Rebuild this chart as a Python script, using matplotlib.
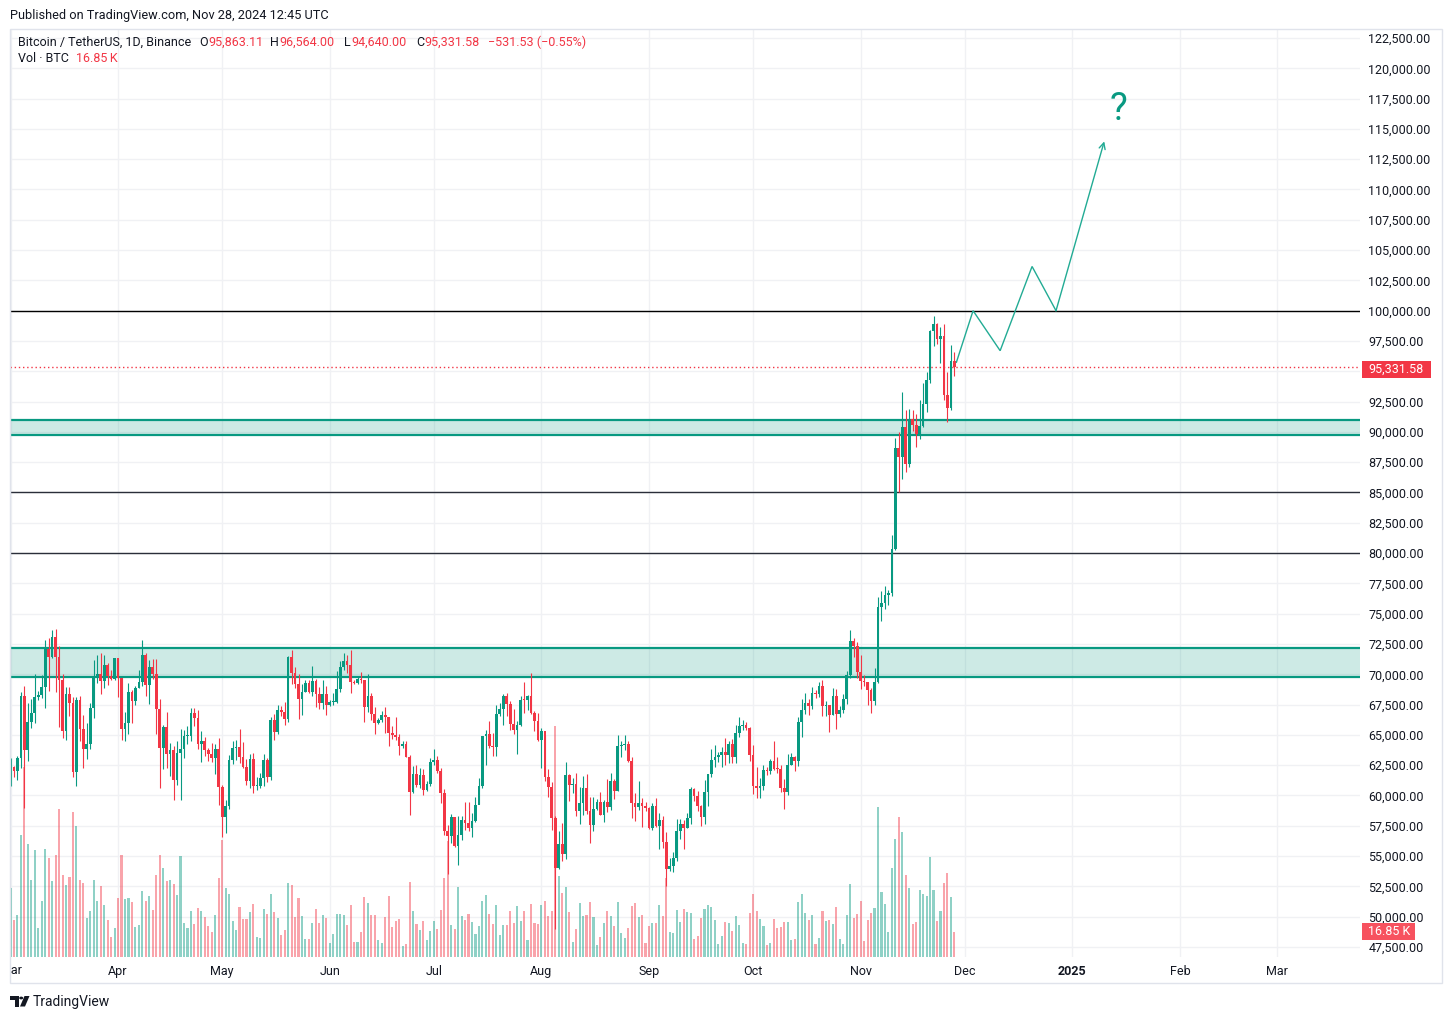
import matplotlib
matplotlib.use("Agg")
import matplotlib.pyplot as plt
from matplotlib.patches import Rectangle, Polygon, Circle
from matplotlib.transforms import Bbox, TransformedBbox
import numpy as np

plt.rcParams['font.family'] = ['Roboto', 'DejaVu Sans']

W, H = 1453, 1019

# ---------------- data (BTC/USDT daily, Binance) ----------------
start_date = '2024-03-01'
first_open = 61130.0

close_mar = [62387, 61987, 63113, 68245, 63724, 66074, 66823, 68124, 68313, 68955, 72078, 71452, 73072, 71388, 69499, 65300,
             68393, 67609, 61937, 67840, 65501, 63797, 64209, 67211, 69880, 69988, 69452, 70744, 69893, 69645, 71333]
high_mar = [63114, 62433, 63230, 68499, 69000, 67637, 67985, 69990, 68592, 69950, 72800, 72969, 73650, 73777, 72357, 70044,
            68930, 68956, 68124, 68100, 68240, 66650, 65976, 67624, 71150, 71561, 71769, 71552, 70913, 70357, 71366]
low_mar = [60777, 61561, 61320, 62300, 59005, 62848, 65600, 66000, 67918, 68040, 67194, 68620, 71333, 68555, 65630, 64780,
           64539, 66600, 61555, 60775, 64529, 62260, 63038, 63800, 66385, 69280, 68359, 68903, 69076, 69566, 69562]
vol_mar = [46.7, 25, 28, 82, 128, 76, 52, 72, 19.5, 38, 73, 67, 51, 69, 100, 55, 48.5, 54, 98, 88, 52, 50, 26, 31, 52, 38,
           48, 35, 25, 13.5, 19.5]

close_apr = [69702, 65447, 65980, 68508, 67838, 68896, 69360, 71620, 69146, 70631, 70006, 67116, 63924, 65662, 63419, 63793,
             61277, 63470, 63818, 64941, 64941, 66819, 66414, 64289, 64498, 63770, 63461, 63118, 63866, 60672]
high_apr = [71342, 69674, 66914, 69291, 68725, 69000, 70327, 72797, 71758, 71172, 71256, 71227, 67931, 65824, 66868, 64365,
            64125, 64500, 65450, 65400, 65723, 67233, 67208, 67070, 65294, 64800, 63923, 64366, 64228, 64734]
low_apr = [68110, 64550, 64493, 65064, 66011, 67447, 68856, 69043, 68212, 67518, 69571, 65086, 60660, 62205, 62274, 61600,
           59600, 60833, 59600, 63088, 64277, 64500, 65752, 63825, 62794, 63297, 62825, 62794, 61765, 59191]
vol_apr = [40, 69, 39, 40, 37, 20, 21.5, 44.5, 38, 41, 32, 55, 69, 60, 51, 52, 49, 42, 68, 23, 19.5, 31, 22, 33, 31, 27, 21,
           17, 28, 53]

close_may = [58254, 59123, 62889, 63891, 64031, 63161, 62334, 61187, 63049, 60792, 60793, 61448, 62901, 61552, 66206, 65236,
             67024, 66915, 66274, 71446, 70148, 69166, 67969, 68549, 69290, 68508, 69436, 68398, 67652, 68352, 67491]
high_may = [60860, 59602, 63320, 64494, 64610, 65500, 64444, 62986, 63418, 63469, 61490, 61818, 63450, 63118, 66444, 66752,
            67451, 67400, 67700, 71515, 71979, 70623, 70041, 69220, 69562, 69500, 70687, 69591, 68920, 69500, 69000]
low_may = [56552, 56937, 58848, 62600, 62955, 62700, 62300, 60888, 60630, 60187, 60492, 60632, 60749, 61142, 61300, 64602,
           65106, 66600, 65857, 66060, 69162, 68900, 66312, 66622, 68500, 68488, 68250, 67277, 67119, 67118, 66670]
vol_may = [79, 46.5, 42.5, 24, 18, 33.7, 25.6, 25.6, 30.3, 35.7, 13.5, 12.8, 32.3, 29, 42.5, 30.3, 26.3, 14.8, 18.2, 49.9,
           48.5, 27, 39.8, 27.6, 12.1, 12.1, 22.9, 32.3, 22.9, 28.3, 26.3]

close_jun = [67706, 67751, 68804, 70567, 71082, 70757, 69342, 69305, 69647, 69512, 67332, 68241, 66756, 66011, 66191, 66639,
             66490, 65140, 64960, 64828, 64096, 64252, 63180, 60277, 61804, 60864, 61706, 60428, 60987, 62772]
high_jun = [67857, 68444, 70288, 71063, 71758, 71625, 71997, 69563, 69852, 70195, 69558, 69999, 68449, 67300, 66400, 66950,
            67298, 66500, 65738, 66482, 65066, 64522, 64524, 63369, 62430, 62480, 62293, 62190, 61198, 63059]
low_jun = [67386, 67444, 67612, 68567, 70383, 70119, 68420, 69222, 69160, 69245, 66051, 66900, 66251, 65078, 65871, 66034,
           65131, 64060, 64693, 64560, 63379, 63943, 63178, 58402, 60239, 60712, 60585, 60066, 60366, 60790]
vol_jun = [9.4, 15.5, 29, 29, 28.3, 21.6, 35, 10.1, 10.1, 16.8, 40.4, 36.4, 28.3, 28.3, 11.5, 9.4, 27, 41.1, 20.2, 24.3,
           25.6, 7.4, 8.8, 50.5, 31, 22.2, 18.2, 24.3, 11.5, 17.5]

close_jul = [62900, 62030, 60200, 57042, 56663, 58230, 55849, 56705, 58009, 57742, 57344, 57899, 59231, 60788, 64870, 65097,
             64118, 63974, 66710, 67164, 68188, 67532, 65936, 65371, 65800, 67907, 67896, 68249, 66784, 66188, 64620]
high_jul = [63861, 63274, 62300, 60498, 57546, 58475, 58236, 58280, 58300, 59470, 59500, 58550, 59850, 61420, 64900, 65388,
            66128, 65133, 67439, 67650, 68374, 68480, 67818, 67102, 66135, 68235, 69400, 68318, 70079, 66999, 66810]
low_jul = [62500, 61835, 59420, 56771, 53485, 56042, 55783, 54260, 56290, 57157, 57052, 56590, 57775, 59262, 60632, 62500,
           63900, 63238, 63300, 66572, 65777, 66574, 65441, 65111, 63455, 65755, 66800, 67066, 66700, 65302, 64525]
vol_jul = [24.3, 18.9, 31.7, 53.2, 78.2, 21.6, 18.9, 47.2, 27.6, 24.9, 29, 23.6, 15.5, 20.9, 37.7, 41.8, 29, 22.2, 35, 14.8,
           21.6, 21.6, 31, 22.9, 34.4, 24.3, 31, 11.5, 35.7, 22.9, 22.2]

close_aug = [65354, 61498, 60697, 58161, 54018, 56022, 55134, 61685, 60838, 60923, 58712, 59346, 60587, 58683, 57541, 58874,
             59491, 58427, 59438, 59013, 61157, 60381, 64094, 64178, 64220, 62834, 59416, 59035, 59360, 59124, 58974]
high_aug = [65593, 65000, 62189, 61117, 58305, 57040, 57750, 62745, 61744, 61470, 61858, 60720, 61578, 61800, 59848, 59850,
            59700, 60284, 59617, 61396, 61820, 61400, 64955, 64491, 65000, 64481, 63210, 60234, 61166, 59815, 59459]
low_aug = [62248, 61186, 59850, 57123, 49000, 53962, 54558, 54730, 59565, 60243, 58286, 57642, 58392, 58433, 56078, 57098,
           58785, 58408, 57787, 58610, 58783, 59724, 60342, 63180, 63773, 62800, 58116, 57860, 58786, 57429, 58744]
vol_aug = [35, 37.7, 27.6, 31, 156, 54.6, 43.1, 47.2, 30.3, 10.1, 18.9, 36.4, 27.6, 28.3, 37.1, 27, 8.1, 13.5, 22.9, 31,
           27.6, 20.9, 37.1, 16.2, 12.8, 19.5, 34.4, 36.4, 27, 28.3, 9.4]

close_sep = [57302, 59133, 57487, 57971, 56160, 53962, 54160, 54869, 57042, 57635, 57338, 58132, 60499, 59994, 59133, 58213,
             60309, 61759, 62947, 63201, 63348, 63578, 63339, 64262, 63152, 65173, 65769, 65858, 65602, 63327]
high_sep = [59054, 59400, 59815, 58519, 58300, 56995, 54850, 55300, 58088, 58044, 57991, 58588, 60670, 60660, 60387, 59211,
            61320, 61786, 63850, 64133, 63559, 64000, 64745, 64481, 64700, 65800, 66498, 66260, 66077, 65624]
low_sep = [57201, 57128, 57415, 55606, 55670, 52550, 53745, 53653, 54591, 56386, 55545, 57323, 57629, 59517, 58696, 57493,
           57610, 59174, 61555, 62350, 62758, 62357, 62538, 62700, 62670, 62670, 64819, 65422, 65432, 62856]
vol_sep = [20.9, 22.9, 22.9, 35, 27.6, 53.2, 16.8, 16.2, 31.7, 23.6, 32.3, 30.3, 29.6, 12.1, 14.2, 26.3, 32.3, 35, 33.7,
           24.9, 8.8, 14.2, 23.6, 22.9, 17.5, 27.6, 21.6, 9.4, 8.8, 29.6]

close_oct = [60805, 60649, 60752, 62086, 62058, 62819, 62224, 62160, 60636, 60326, 62540, 63207, 62870, 66084, 67074, 67621,
             67421, 68428, 68378, 69032, 67377, 67426, 66668, 68198, 66698, 67015, 67930, 69907, 72720, 72339, 70215]
high_oct = [64130, 62392, 61469, 62484, 62370, 62975, 64478, 63200, 62543, 61321, 63400, 63480, 63285, 66500, 67950, 68424,
            67939, 68969, 68694, 69400, 69500, 67836, 67470, 68850, 68800, 67350, 68335, 70270, 73620, 72961, 72700]
low_oct = [60164, 59828, 59828, 60459, 61689, 61798, 62128, 61839, 60300, 58895, 60050, 62487, 62050, 62442, 64800, 66750,
           66666, 67177, 68020, 68100, 66571, 66571, 65260, 66612, 65521, 66518, 66780, 67510, 69730, 71436, 69685]
vol_oct = [42.5, 31, 25.6, 20.9, 8.1, 9.4, 25.6, 19.5, 20.2, 23.6, 23.6, 11.5, 12.1, 37.1, 42.5, 29.6, 24.9, 28.3, 8.8,
           12.8, 31, 24.3, 24.9, 22.2, 33.7, 12.1, 8.8, 28.3, 49.2, 26.3, 29]

close_nov = [69482, 69358, 68727, 67800, 69359, 75571, 75857, 76509, 76677, 80370, 88648, 87952, 90375, 87325, 91032, 90586,
             89855, 90464, 92310, 94286, 98317, 98892, 97673, 97900, 93010, 91965, 95863.11, 95331.58]
high_nov = [71632, 69914, 69400, 68862, 70500, 76400, 76850, 77300, 76932, 81500, 89530, 89956, 93265, 91790, 91850, 91800,
            91449, 92594, 94002, 94902, 98384, 99588, 99000, 98647, 98871, 94974, 97208, 96564]
low_nov = [68820, 69000, 67478, 66803, 67458, 69299, 74414, 75366, 75700, 76492, 80216, 85072, 86127, 86668, 87073, 90093,
           88722, 89376, 90389, 91620, 94000, 97122, 97233, 95656, 92600, 90791, 91792, 94640]
vol_nov = [37.7, 10.8, 24.9, 29.6, 33, 101, 43.8, 35.7, 16.8, 60, 79.5, 94.3, 84.2, 55.3, 46.5, 22.2, 23.6, 45.1, 42.5,
           41.1, 67.4, 45.1, 24.3, 31, 49.9, 56.6, 40.4, 16.85]

# horizontal levels and zones drawn on the chart
level_lines = [100000, 85000, 80000]
level_colors = ['#000000', '#2a2e39', '#2a2e39']
zones = [(89750, 91000), (69750, 72150)]

# projection path (day index from 1 Mar 2024, price)
proj_days = [272.6, 277.4, 285.2, 294.4, 301.3, 315.2]
proj_prices = [95750, 100000, 96700, 103650, 100000, 113970]
question_pos = (319.2, 116600)

month_dates = ['2024-03-01', '2024-04-01', '2024-05-01', '2024-06-01', '2024-07-01', '2024-08-01', '2024-09-01',
               '2024-10-01', '2024-11-01', '2024-12-01', '2025-01-01', '2025-02-01', '2025-03-01']
month_labels = ['Mar', 'Apr', 'May', 'Jun', 'Jul', 'Aug', 'Sep', 'Oct', 'Nov', 'Dec', '2025', 'Feb', 'Mar']

price_ticks = list(range(47500, 122501, 2500))
hidden_price_ticks = [95000]

last_close = 95331.58
last_vol_label = '16.85 K'

# ---------------- assemble ----------------
closes = np.array(close_mar + close_apr + close_may + close_jun + close_jul + close_aug + close_sep + close_oct + close_nov, float)
highs = np.array(high_mar + high_apr + high_may + high_jun + high_jul + high_aug + high_sep + high_oct + high_nov, float)
lows = np.array(low_mar + low_apr + low_may + low_jun + low_jul + low_aug + low_sep + low_oct + low_nov, float)
vols = np.array(vol_mar + vol_apr + vol_may + vol_jun + vol_jul + vol_aug + vol_sep + vol_oct + vol_nov, float)
opens = np.concatenate([[first_open], closes[:-1]])
days = np.arange(len(closes))

UP, DN = '#089981', '#F23645'
is_up = closes >= opens
cols = np.where(is_up, UP, DN)

month_days = [(np.datetime64(d) - np.datetime64(start_date)).astype(int) for d in month_dates]

# ---------------- figure ----------------
fig = plt.figure(figsize=(W / 100, H / 100), dpi=100)
fig.patch.set_facecolor('white')

L, R, T, B = 10, 1360, 30, 957
pos = [L / W, 1 - B / H, (R - L) / W, (B - T) / H]
px_per_dollar = (947 - 38) / 75000.0
ymin = 47500 - (B - 947) / px_per_dollar
ymax = 122500 + (38 - T) / px_per_dollar
x0 = -(0.5) / 3.47
x1 = (R - L - 0.5) / 3.47

ax_bg = fig.add_axes(pos)
ax_v = fig.add_axes(pos, sharex=ax_bg)
ax = fig.add_axes(pos, sharex=ax_bg)

ax_bg.set_xlim(x0, x1)
ax_bg.set_ylim(ymin, ymax)
for s in ax_bg.spines.values():
    s.set_visible(False)
ax_bg.yaxis.tick_right()
ax_bg.set_yticks(price_ticks)
ax_bg.set_yticklabels(['' if t in hidden_price_ticks else f'{t:,.2f}' for t in price_ticks])
ax_bg.tick_params(axis='y', length=0, pad=6, labelsize=9, labelcolor='#131722')
ax_bg.set_xticks(month_days)
ax_bg.set_xticklabels([''] + month_labels[1:])
ax_bg.tick_params(axis='x', length=0, pad=6, labelsize=9, labelcolor='#131722')
for lab in ax_bg.get_xticklabels():
    if lab.get_text() == '2025':
        lab.set_fontweight('bold')
ax_bg.grid(True, color='#f0f1f4', lw=1)

# volume
ax_v.set_ylim(0, (B - T) / 25.0 * 16.85)
ax_v.axis('off')
ax_v.bar(days, vols, width=0.6, color=cols, alpha=0.45, lw=0)

# candles
ax.set_ylim(ymin, ymax)
ax.axis('off')
for lo, hi in zones:
    ax.axhspan(lo, hi, color='#089981', alpha=0.2, lw=0, zorder=1)
    ax.axhline(lo, color='#089981', lw=1.6, zorder=2)
    ax.axhline(hi, color='#089981', lw=1.6, zorder=2)
for lv, lc in zip(level_lines, level_colors):
    ax.axhline(lv, color=lc, lw=1.0, zorder=2)
ax.axhline(last_close, color=DN, lw=1, ls=(0, (1, 2)), zorder=2)

ax.vlines(days, lows, highs, colors=cols, lw=0.8, zorder=3)
body = np.maximum(np.abs(closes - opens), 80)
ax.bar(days, body, bottom=np.minimum(opens, closes), width=0.78, color=cols, lw=0, zorder=4)

# projection
ax.plot(proj_days[:-1], proj_prices[:-1], color='#22ab94', lw=1, zorder=5, solid_joinstyle='miter')
ax.annotate('', xy=(proj_days[-1], proj_prices[-1]), xytext=(proj_days[-2], proj_prices[-2]),
            arrowprops=dict(arrowstyle='->', color='#22ab94', lw=1, shrinkA=0, shrinkB=0, mutation_scale=11),
            zorder=5)
ax.text(question_pos[0], question_pos[1], '?', color='#089981', fontsize=27, ha='center', va='center', zorder=6)


# ---------------- figure-level decorations ----------------
def fxy(x, y):
    return (x / W, 1 - y / H)


def ftext(x, y, s, **kw):
    kw.setdefault('va', 'center')
    kw.setdefault('ha', 'left')
    return fig.text(x / W, 1 - y / H, s, **kw)


# frame
fig.patches.append(Rectangle(fxy(9.5, 983), (1442 - 9.5) / W, (983 - 28.5) / H, transform=fig.transFigure,
                             fill=False, ec='#e0e3eb', lw=1))

# cut-off first month label
t = ftext(10.5, 970, month_labels[0], ha='center', fontsize=9, color='#131722')
t.set_clip_box(TransformedBbox(Bbox([[10 / W, 0], [1, 1]]), fig.transFigure))
t.set_clip_on(True)

# price label box
fig.patches.append(Rectangle(fxy(1362, 377.5), 69 / W, 17 / H, transform=fig.transFigure, color=DN, lw=0))
ftext(1368, 369, f'{last_close:,.2f}', color='white', fontsize=9)
# volume label box
fig.patches.append(Rectangle(fxy(1362, 940), 53 / W, 17 / H, transform=fig.transFigure, color='#F7525F', lw=0))
ftext(1368, 931.5, last_vol_label, color='white', fontsize=9)

# header
ftext(10, 15, 'Published on TradingView.com, Nov 28, 2024 12:45 UTC', fontsize=9.2, color='#131722')
ftext(18, 42, 'Bitcoin / TetherUS, 1D, Binance', fontsize=9, color='#131722')
hdr = [('O', 199, '#131722'), ('95,863.11', 208, DN), ('H', 270, '#131722'), ('96,564.00', 279, DN),
       ('L', 344, '#131722'), ('94,640.00', 351, DN), ('C', 416, '#131722'), ('95,331.58', 424, DN),
       ('\u2212531.53 (\u22120.55%)', 488, DN)]
for s, x, c in hdr:
    ftext(x, 42, s, fontsize=9, color=c)
ftext(18, 59, 'Vol \u00b7 BTC', fontsize=9, color='#131722')
ftext(76, 59, '16.85\u2009K', fontsize=9, color=DN)

# TradingView logo + name
fig.patches.append(Polygon([fxy(10, 996), fxy(18.5, 996), fxy(18.5, 1006.5), fxy(14.5, 1006.5), fxy(14.5, 1000),
                            fxy(10, 1000)], closed=True, transform=fig.transFigure, color='#131722', lw=0))
fig.patches.append(Circle(fxy(21.2, 998), 2.0 / W, transform=fig.transFigure, color='#131722', lw=0))
fig.patches.append(Polygon([fxy(24.5, 996), fxy(29.5, 996), fxy(25, 1006.5), fxy(20, 1006.5)], closed=True,
                           transform=fig.transFigure, color='#131722', lw=0))
ftext(33, 1002, 'TradingView', fontsize=10, color='#131722')

fig.savefig('out.png', dpi=100, facecolor='white')
